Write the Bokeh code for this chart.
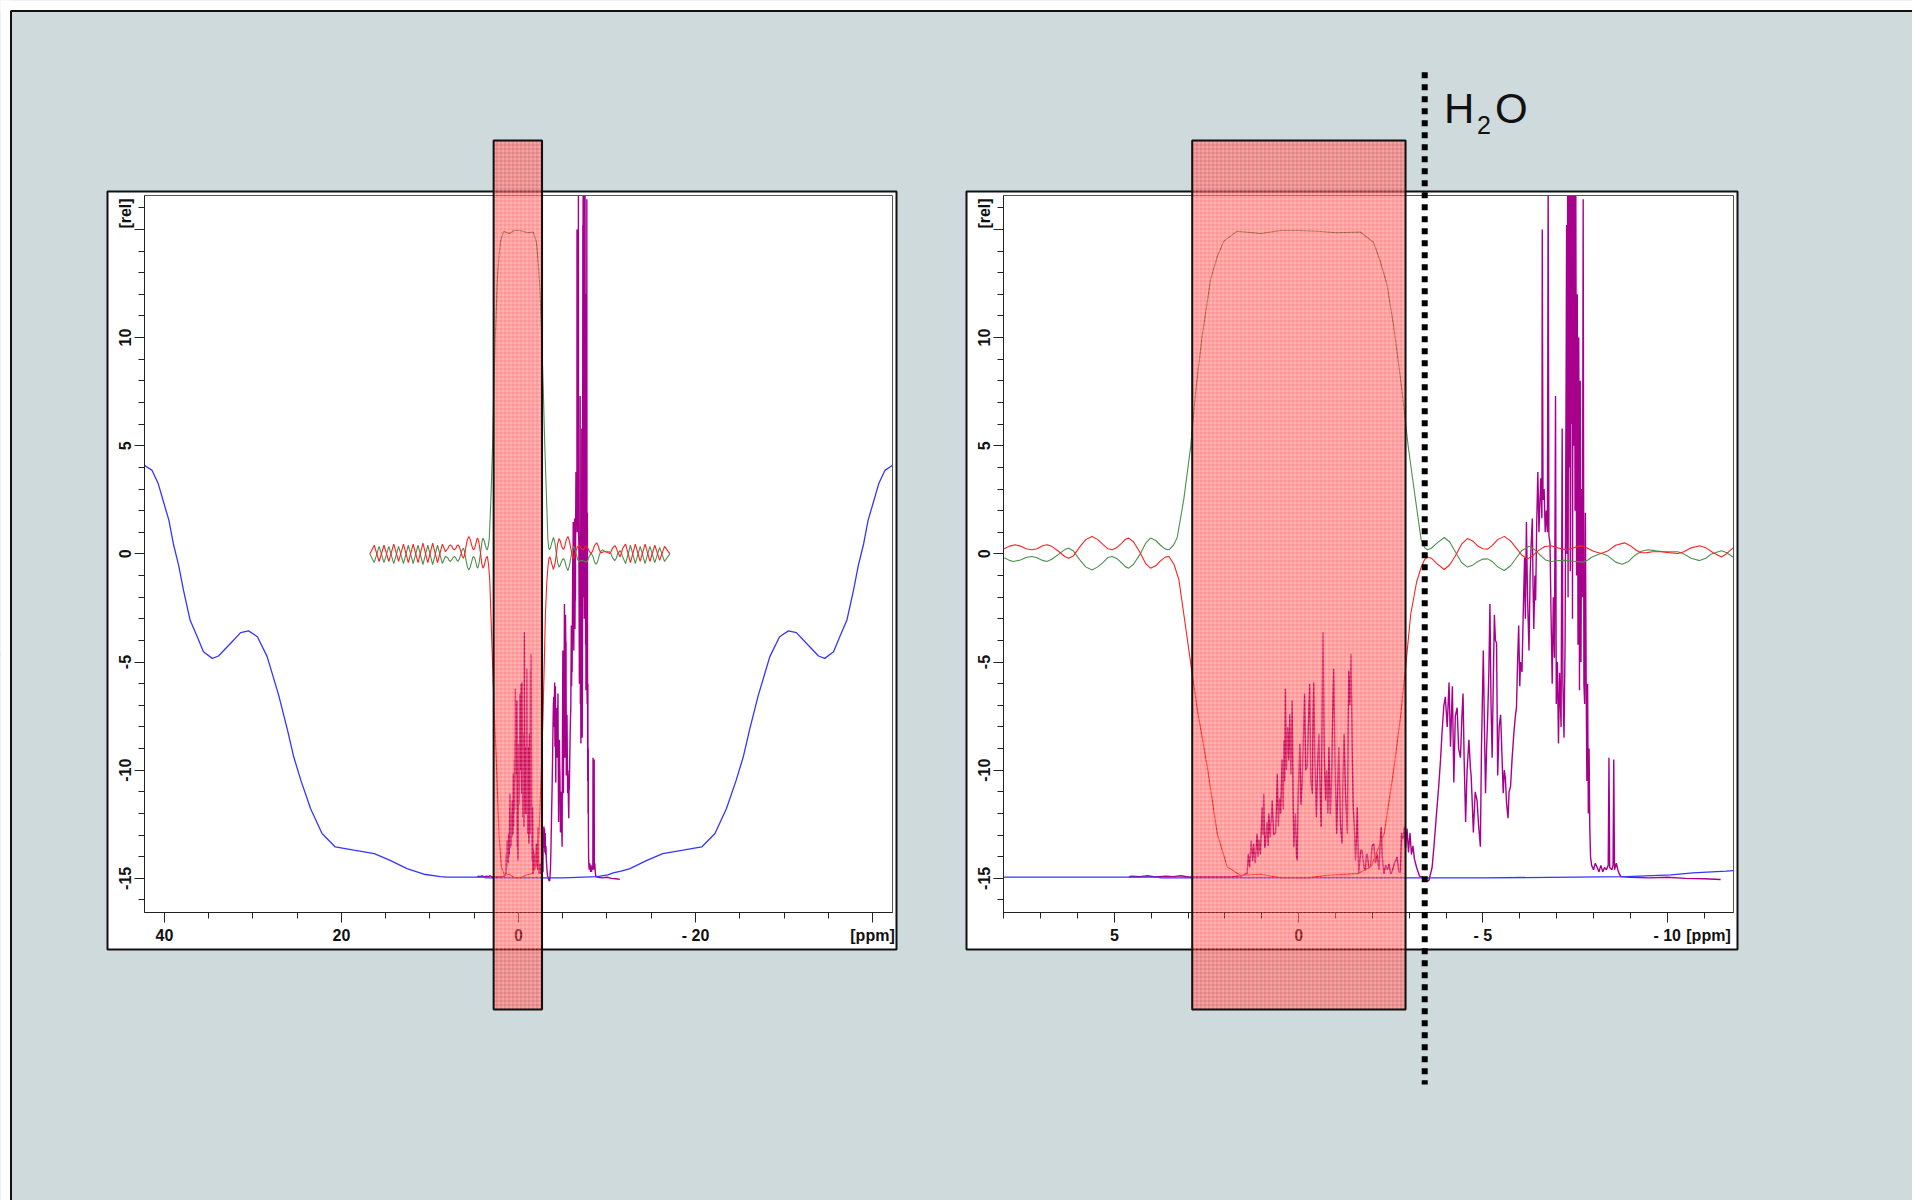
import math
from bokeh.plotting import figure
from bokeh.models import Range1d, FixedTicker, Label, LinearAxis
from bokeh.embed import file_html
from bokeh.resources import INLINE

BG = "#cfdadc"
W, H = 1912, 1200
FONT = "Liberation Sans"

# ---------------- tick labels ----------------
left_x_ticks = [40, 20, 0, -20, -40]
left_x_labels = {40: "40", 20: "20", 0: "0", -20: "- 20", -40: "[ppm]"}
right_x_ticks = [5, 0, -5, -10]
right_x_labels = {5: "5", 0: "0", -5: "- 5", -10: "- 10"}
y_ticks = [-15, -10, -5, 0, 5, 10, 15]
y_labels = {-15: "-15", -10: "-10", -5: "-5", 0: "0", 5: "5", 10: "10", 15: ""}

# ---------------- marked regions ----------------
left_selection = (2.81, -2.66)     # ppm
right_selection = (2.89, -2.90)    # ppm
water_ppm = -3.42

# ---------------- blue profile ----------------
blue_ppm = [42.3, 42.1, 41.4, 40.7, 40.1, 39.5, 39.0, 38.4, 37.85, 37.1, 36.3, 35.6, 34.6, 33.9,
            32.5, 31.4, 30.5, 29.5, 28.4, 27.1, 26.1, 25.4, 24.6, 23.5, 22.2, 20.7, 18.6, 16.3,
            14.5, 12.6, 10.7, 8.8, 8.1, 3.8, 3.75, 0.0, -5.0, -8.9, -10.1, -10.7, -11.6, -12.6,
            -14.5, -16.3, -18.6, -20.7, -22.2, -23.5, -24.6, -25.4, -26.1, -27.1, -28.4, -29.5,
            -30.5, -31.4, -32.5, -33.9, -34.6, -35.6, -36.3, -37.1, -37.85, -38.4, -39.0, -39.5,
            -40.1, -40.7, -41.4, -42.1, -42.3]
blue_val = [4.12, 4.05, 3.86, 3.24, 2.39, 1.55, 0.47, -0.53, -1.69, -3.07, -3.83, -4.52, -4.83, -4.72,
            -4.12, -3.64, -3.56, -3.83, -4.75, -6.53, -8.15, -9.38, -10.46, -11.77, -12.93, -13.55,
            -13.70, -13.86, -14.17, -14.55, -14.81, -14.92, -14.94, -14.94, -14.98, -14.98, -14.98,
            -14.92, -14.84, -14.75, -14.67, -14.55, -14.17, -13.86, -13.70, -13.55, -12.93, -11.77,
            -10.46, -9.38, -8.15, -6.53, -4.75, -3.83, -3.56, -3.64, -4.12, -4.72, -4.83, -4.52,
            -3.83, -3.07, -1.69, -0.53, 0.47, 1.55, 2.39, 3.24, 3.86, 4.05, 4.12]

# ---------------- red / green excitation curves (ppm, value) ----------------
red_curve = [
    (16.8, 0.0), (16.3, 0.4), (15.75, -0.35), (15.2, 0.4), (14.65, -0.35), (14.1, 0.45),
    (13.55, -0.35), (13.0, 0.45), (12.45, -0.4), (11.9, 0.45), (11.35, -0.4), (10.8, 0.5),
    (10.25, -0.4), (9.7, 0.5), (9.15, -0.4), (8.6, 0.45), (8.25, 0.1),
    (7.96, 0.26), (7.85, 0.36), (7.69, 0.42), (7.55, 0.36), (7.40, 0.24), (7.24, 0.19),
    (7.10, 0.24), (6.95, 0.38), (6.83, 0.42), (6.70, 0.35), (6.50, 0.10), (6.35, -0.12),
    (6.24, -0.20), (6.12, -0.10), (5.95, 0.30), (5.78, 0.66), (5.61, 0.80), (5.45, 0.66),
    (5.30, 0.42), (5.18, 0.24), (5.06, 0.19), (4.93, 0.30), (4.80, 0.50), (4.70, 0.68),
    (4.61, 0.73), (4.48, 0.55), (4.30, 0.05), (4.15, -0.45), (4.02, -0.66), (3.88, -0.55),
    (3.75, -0.32), (3.62, -0.15), (3.52, -0.12), (3.38, -0.50), (3.25, -1.20), (3.10, -3.00),
    (2.93, -5.06), (2.75, -7.2), (2.48, -9.85), (2.21, -12.93), (1.94, -14.47), (1.58, -14.86),
    (1.03, -14.81), (0.49, -14.97), (-0.24, -14.98), (-0.78, -14.86), (-1.6, -14.78),
    (-1.96, -14.47), (-2.32, -12.93), (-2.59, -9.85), (-2.77, -7.42), (-2.91, -5.1),
    (-3.04, -2.79), (-3.2, -1.3), (-3.32, -0.64), (-3.42, -0.25), (-3.50, -0.14), (-3.60, -0.20),
    (-3.75, -0.45), (-3.95, -0.72), (-4.10, -0.50), (-4.25, -0.10), (-4.42, 0.45), (-4.58, 0.71),
    (-4.72, 0.60), (-4.85, 0.38), (-5.00, 0.24), (-5.13, 0.22), (-5.25, 0.38), (-5.40, 0.66),
    (-5.58, 0.81), (-5.75, 0.60), (-5.90, 0.28), (-6.05, -0.05), (-6.21, -0.23), (-6.35, -0.08),
    (-6.50, 0.15), (-6.68, 0.34), (-6.85, 0.38), (-7.00, 0.30), (-7.15, 0.22), (-7.30, 0.19),
    (-7.45, 0.27), (-7.60, 0.36), (-7.72, 0.36), (-7.85, 0.25), (-8.00, 0.12), (-8.21, 0.02),
    (-8.40, 0.15), (-8.60, 0.40), (-8.84, 0.51), (-9.00, 0.38), (-9.15, 0.18), (-9.29, 0.05),
    (-9.45, 0.06), (-9.60, 0.10), (-9.84, 0.10), (-10.05, 0.06), (-10.29, 0.02), (-10.45, 0.10),
    (-10.65, 0.28), (-10.88, 0.38), (-11.05, 0.28), (-11.25, 0.05), (-11.47, -0.14),
    (-11.62, 0.02), (-11.78, 0.27),
    (-12.1, 0.45), (-12.65, -0.4), (-13.2, 0.45), (-13.75, -0.35), (-14.3, 0.45), (-14.85, -0.35),
    (-15.4, 0.4), (-15.95, -0.3), (-16.5, 0.35), (-17.1, 0.0),
]
green_curve = [
    (16.8, 0.0), (16.3, -0.4), (15.75, 0.35), (15.2, -0.4), (14.65, 0.35), (14.1, -0.45),
    (13.55, 0.35), (13.0, -0.45), (12.45, 0.4), (11.9, -0.45), (11.35, 0.4), (10.8, -0.5),
    (10.25, 0.4), (9.7, -0.5), (9.15, 0.4), (8.6, -0.45), (8.25, -0.1),
    (7.96, -0.20), (7.85, -0.30), (7.74, -0.35), (7.55, -0.28), (7.40, -0.17), (7.24, -0.12),
    (7.10, -0.18), (6.95, -0.30), (6.83, -0.35), (6.70, -0.25), (6.50, 0.00), (6.35, 0.20),
    (6.24, 0.26), (6.12, 0.15), (5.95, -0.25), (5.78, -0.60), (5.61, -0.74), (5.45, -0.60),
    (5.30, -0.38), (5.18, -0.17), (5.06, -0.12), (4.93, -0.22), (4.80, -0.42), (4.70, -0.60),
    (4.61, -0.66), (4.48, -0.48), (4.30, 0.00), (4.15, 0.50), (4.02, 0.73), (3.88, 0.62),
    (3.75, 0.40), (3.62, 0.22), (3.52, 0.19), (3.40, 0.40), (3.30, 0.73), (3.12, 2.50),
    (2.93, 4.97), (2.80, 7.44), (2.62, 10.06), (2.39, 12.69), (2.2, 13.8), (2.03, 14.46),
    (1.67, 14.92), (1.03, 14.81), (0.5, 14.95), (0.0, 14.95), (-0.5, 14.92), (-1.03, 14.85),
    (-1.67, 14.88), (-2.03, 14.4), (-2.2, 13.6), (-2.39, 12.5), (-2.58, 10.5), (-2.8, 7.6),
    (-2.97, 5.0), (-3.13, 3.0), (-3.32, 0.68), (-3.42, 0.28), (-3.50, 0.19), (-3.60, 0.26),
    (-3.75, 0.50), (-3.95, 0.76), (-4.10, 0.55), (-4.25, 0.10), (-4.42, -0.40), (-4.58, -0.61),
    (-4.72, -0.52), (-4.85, -0.36), (-5.00, -0.24), (-5.13, -0.23), (-5.25, -0.35), (-5.40, -0.60),
    (-5.58, -0.77), (-5.75, -0.55), (-5.90, -0.20), (-6.05, 0.15), (-6.25, 0.35), (-6.40, 0.20),
    (-6.55, -0.05), (-6.70, -0.28), (-6.85, -0.35), (-7.00, -0.32), (-7.20, -0.30), (-7.45, -0.34),
    (-7.70, -0.38), (-7.85, -0.28), (-7.95, -0.15), (-8.21, 0.03), (-8.40, -0.10), (-8.60, -0.38),
    (-8.78, -0.48), (-8.95, -0.35), (-9.10, -0.10), (-9.30, 0.12), (-9.48, 0.19), (-9.70, 0.14),
    (-9.90, 0.10), (-10.10, 0.10), (-10.29, 0.10), (-10.45, 0.00), (-10.65, -0.20), (-10.88, -0.31),
    (-11.05, -0.20), (-11.20, 0.00), (-11.47, 0.15), (-11.62, 0.05), (-11.78, -0.14),
    (-12.1, -0.45), (-12.65, 0.4), (-13.2, -0.45), (-13.75, 0.35), (-14.3, -0.45), (-14.85, 0.35),
    (-15.4, -0.4), (-15.95, 0.3), (-16.5, -0.35), (-17.1, 0.0),
]
red_ppm = [a for a, b in red_curve]
red_val = [b for a, b in red_curve]
green_ppm = [a for a, b in green_curve]
green_val = [b for a, b in green_curve]

# ---------------- 1H spectrum (ppm, intensity) ----------------
spectrum = [
    (4.60, -14.96), (4.56, -14.90), (4.30, -14.92), (4.10, -14.88), (3.90, -14.93), (3.60, -14.90),
    (3.40, -14.92), (3.20, -14.88), (3.00, -14.94), (2.60, -14.93), (2.20, -14.94), (1.80, -14.92),
    (1.55, -14.88), (1.45, -14.80),
    (1.40, -14.79), (1.37, -13.87), (1.33, -14.50), (1.29, -13.25), (1.25, -14.20), (1.22, -13.40),
    (1.18, -14.30), (1.13, -12.94), (1.10, -14.00), (1.08, -13.20), (1.04, -13.90), (0.99, -11.71),
    (0.97, -13.00), (0.95, -11.09), (0.92, -13.60), (0.90, -13.40), (0.86, -12.40), (0.83, -13.50),
    (0.81, -12.00), (0.77, -13.10), (0.72, -11.40), (0.68, -13.00), (0.63, -12.90), (0.60, -11.50),
    (0.58, -10.17), (0.55, -12.60), (0.52, -11.30), (0.49, -12.00), (0.45, -9.50), (0.42, -11.80),
    (0.40, -8.63), (0.38, -10.50), (0.36, -6.24), (0.33, -10.00), (0.30, -8.00), (0.27, -9.55),
    (0.24, -7.40), (0.21, -10.20), (0.18, -6.78), (0.15, -11.50), (0.13, -13.56), (0.09, -12.00),
    (0.06, -14.00), (0.04, -14.17), (0.01, -11.00), (-0.03, -8.78), (-0.06, -11.60), (-0.09, -10.78),
    (-0.12, -9.00), (-0.16, -6.47), (-0.19, -10.00), (-0.23, -9.86), (-0.26, -8.00), (-0.30, -6.00),
    (-0.33, -10.50), (-0.37, -11.09), (-0.39, -7.50), (-0.41, -5.93), (-0.44, -9.50), (-0.48, -12.17),
    (-0.51, -10.00), (-0.55, -8.32), (-0.58, -11.00), (-0.61, -12.63), (-0.64, -7.00), (-0.66, -3.62),
    (-0.69, -9.00), (-0.73, -11.40), (-0.76, -10.00), (-0.79, -12.00), (-0.82, -8.93), (-0.86, -12.02),
    (-0.89, -10.50), (-0.92, -7.50), (-0.95, -5.31), (-0.99, -10.00), (-1.03, -12.94), (-1.06, -11.00),
    (-1.09, -8.93), (-1.13, -12.50), (-1.18, -13.40), (-1.20, -10.50), (-1.23, -8.32), (-1.27, -11.00),
    (-1.32, -12.94), (-1.34, -8.00), (-1.36, -5.39), (-1.39, -7.00), (-1.42, -4.62), (-1.45, -9.00),
    (-1.48, -11.71), (-1.51, -12.50), (-1.54, -14.17), (-1.57, -13.00), (-1.59, -11.71), (-1.62, -14.00),
    (-1.63, -14.79), (-1.68, -13.70), (-1.72, -13.71), (-1.77, -14.50), (-1.81, -14.64), (-1.84, -13.90),
    (-1.86, -13.87), (-1.90, -14.50), (-1.95, -14.48), (-1.99, -13.50), (-2.04, -13.40), (-2.08, -14.30),
    (-2.13, -13.87), (-2.18, -14.60), (-2.21, -13.30), (-2.24, -12.63), (-2.27, -14.00), (-2.31, -14.79),
    (-2.36, -14.40), (-2.41, -14.60), (-2.45, -14.33), (-2.50, -14.80), (-2.54, -14.64), (-2.60, -14.30),
    (-2.67, -14.02), (-2.72, -14.70), (-2.76, -14.71),
    (-2.79, -12.90), (-2.83, -13.20), (-2.87, -12.60), (-2.90, -13.60), (-2.94, -12.70), (-2.98, -13.80),
    (-3.02, -12.90), (-3.06, -13.90), (-3.10, -13.50), (-3.14, -14.10), (-3.20, -14.50), (-3.28, -14.90),
    (-3.35, -14.95), (-3.44, -15.10), (-3.53, -15.11), (-3.62, -14.50), (-3.67, -13.54), (-3.74, -12.00),
    (-3.80, -10.74), (-3.85, -9.50), (-3.89, -8.26), (-3.94, -7.00), (-3.98, -6.61), (-4.03, -8.00),
    (-4.08, -5.95), (-4.12, -8.92), (-4.17, -6.12), (-4.21, -10.57), (-4.25, -7.50), (-4.30, -7.11),
    (-4.34, -9.00), (-4.39, -9.42), (-4.43, -7.50), (-4.46, -6.45), (-4.49, -9.50), (-4.53, -12.39),
    (-4.57, -10.00), (-4.62, -8.59), (-4.66, -9.90), (-4.68, -10.24), (-4.71, -11.50), (-4.74, -12.88),
    (-4.79, -11.00), (-4.84, -11.40), (-4.88, -12.50), (-4.93, -13.54), (-4.96, -9.00), (-5.01, -4.47),
    (-5.04, -8.00), (-5.07, -11.07), (-5.10, -9.00), (-5.13, -7.44), (-5.16, -5.50), (-5.19, -2.32),
    (-5.22, -7.00), (-5.25, -9.42), (-5.28, -6.00), (-5.31, -2.81), (-5.34, -4.00), (-5.37, -4.13),
    (-5.40, -10.24), (-5.44, -8.00), (-5.48, -7.44), (-5.52, -9.50), (-5.55, -11.07), (-5.58, -10.00),
    (-5.61, -10.40), (-5.64, -11.50), (-5.68, -12.22), (-5.71, -11.00), (-5.75, -10.74), (-5.79, -9.50),
    (-5.84, -8.26), (-5.88, -7.50), (-5.91, -7.11), (-5.94, -5.00), (-5.97, -3.31), (-6.00, -6.12),
    (-6.02, -5.00), (-6.06, -5.46), (-6.09, -3.00), (-6.13, -0.17), (-6.15, -3.00), (-6.18, 1.48),
    (-6.21, -2.00), (-6.25, -4.47), (-6.28, -1.00), (-6.31, 0.50), (-6.34, 1.64), (-6.36, -1.50),
    (-6.38, -3.47), (-6.41, -1.00), (-6.43, -2.15), (-6.46, 1.50), (-6.49, 3.79), (-6.52, 1.00),
    (-6.54, 2.14), (-6.57, 3.50),
    (-6.60, 1.65), (-6.61, 15.00), (-6.63, 2.50), (-6.66, 3.00), (-6.69, 1.00), (-6.72, 2.00),
    (-6.75, 1.00), (-6.77, 17.50), (-6.79, 0.85), (-6.82, 0.50), (-6.85, -3.00), (-6.88, -6.00),
    (-6.91, -2.00), (-6.94, -4.80), (-6.97, 7.30), (-6.99, -6.94), (-7.02, -5.00), (-7.05, -8.76),
    (-7.08, -5.50), (-7.12, -8.00), (-7.15, 5.80), (-7.17, -6.00), (-7.20, -8.50), (-7.23, -4.00),
    (-7.26, 9.60), (-7.27, 15.20), (-7.28, 0.00), (-7.30, 17.50), (-7.31, -2.00), (-7.33, 17.50),
    (-7.34, 4.00), (-7.36, 17.50), (-7.37, -0.80), (-7.39, 17.50), (-7.40, 6.00), (-7.42, 17.50),
    (-7.43, -3.00), (-7.45, 17.50), (-7.46, 5.00), (-7.48, 17.50), (-7.50, 2.00), (-7.52, 17.50),
    (-7.54, -1.00), (-7.56, 12.00), (-7.58, -4.20), (-7.60, 10.00), (-7.62, -6.30), (-7.64, 8.00),
    (-7.66, -5.00), (-7.68, 3.00), (-7.70, -2.00), (-7.72, 16.40), (-7.74, -6.00), (-7.76, -6.94),
    (-7.78, 1.90), (-7.80, -5.62), (-7.82, -10.50), (-7.84, -6.00), (-7.86, -12.00), (-7.88, -9.00),
    (-7.90, -12.70), (-7.92, -14.00), (-7.95, -14.40), (-8.00, -14.60), (-8.05, -14.30), (-8.10, -14.50),
    (-8.15, -14.70), (-8.20, -14.40), (-8.25, -14.70), (-8.30, -14.50), (-8.35, -14.60), (-8.40, -14.40),
    (-8.42, -9.42), (-8.44, -14.50), (-8.50, -14.60), (-8.53, -14.40), (-8.55, -9.50), (-8.57, -14.60),
    (-8.62, -14.30), (-8.66, -14.60), (-8.70, -14.80), (-8.75, -14.92), (-9.00, -14.95), (-9.50, -14.98),
    (-10.00, -14.95), (-10.50, -15.00), (-11.00, -15.02), (-11.45, -15.05),
]
spec_ppm = [a for a, b in spectrum]
spec_int = [b for a, b in spectrum]

# ---------------- page geometry (pixels) ----------------
left_frame = (144, 892, 195, 912)      # l, r, t, b
right_frame = (1003, 1733, 195, 912)
left_outer = (107, 896, 191, 949)
right_outer = (966, 1737, 191, 949)

p = figure(width=W, height=H, x_range=Range1d(0, W), y_range=Range1d(H, 0),
           x_axis_location=None, y_axis_location=None, min_border=0, title=None,
           output_backend="svg", toolbar_location=None)
p.border_fill_color = "white"
p.background_fill_color = "white"
p.outline_line_color = None
p.xgrid.visible = False
p.ygrid.visible = False
p.extra_x_ranges = {"L": Range1d(58.531, -157.514), "R": Range1d(35.229, -16.657)}
p.extra_y_ranges = {"v": Range1d(-29.894, 25.585)}


def rect_ring(box):
    l, r, t, b = box
    return [l, r, r, l], [t, t, b, b]


def draw_curves(rng):
    for xs, ys, col, lw in ((spec_ppm, spec_int, "#a8008c", 1.4),
                            (blue_ppm, blue_val, "#3535ff", 1.3),
                            (green_ppm, green_val, "#4f8f4f", 1.1),
                            (red_ppm, red_val, "#ff2020", 1.1)):
        p.line(xs, ys, line_color=col, line_width=lw, x_range_name=rng, y_range_name="v")


# page background
p.quad(left=[-50], right=[2600], top=[-50], bottom=[1700], fill_color=BG, line_color=None)

# right (zoomed) panel
l, r, t, b = right_frame
p.quad(left=[l], right=[r], top=[t], bottom=[b], fill_color="white", line_color=None)
draw_curves("R")

# left (wide) panel
l, r, t, b = left_frame
p.quad(left=[l], right=[r], top=[t], bottom=[b], fill_color="white", line_color=None)
draw_curves("L")

# mask everything outside the two frames
ext = ([-50, 2600, 2600, -50], [-50, -50, 1700, 1700])
hl = rect_ring(left_frame)
hr = rect_ring(right_frame)
p.multi_polygons(xs=[[[ext[0], hl[0], hr[0]]]], ys=[[[ext[1], hl[1], hr[1]]]],
                 fill_color=BG, line_color=None)
# white page margin and the page frame line
p.quad(left=[-50], right=[10], top=[-50], bottom=[1700], fill_color="white", line_color=None)
p.quad(left=[-50], right=[2600], top=[-50], bottom=[10], fill_color="white", line_color=None)
p.quad(left=[10.5], right=[3000], top=[10.5], bottom=[3000], fill_color=None,
       line_color="#111111", line_width=2)

# white panels around the frames
for outer, frame in ((left_outer, left_frame), (right_outer, right_frame)):
    ox, oy = rect_ring(outer)
    fx, fy = rect_ring(frame)
    p.multi_polygons(xs=[[[ox, fx]]], ys=[[[oy, fy]]], fill_color="white", line_color=None)
    p.quad(left=[outer[0]], right=[outer[1]], top=[outer[2]], bottom=[outer[3]], fill_color=None,
           line_color="#111111", line_width=2)
    p.quad(left=[frame[0]], right=[frame[1]], top=[frame[2]], bottom=[frame[3]], fill_color=None,
           line_color="#555555", line_width=1)


def style_axis(ax):
    ax.axis_line_color = "#222222"
    ax.major_tick_line_color = "#222222"
    ax.minor_tick_line_color = "#222222"
    ax.major_tick_out = 10
    ax.major_tick_in = 0
    ax.minor_tick_out = 6
    ax.minor_tick_in = 0
    ax.major_label_text_font = FONT
    ax.major_label_text_font_style = "bold"
    ax.major_label_text_font_size = "16px"
    ax.major_label_text_color = "#111111"


# axes
xL = LinearAxis(x_range_name="L", fixed_location=912, bounds=(-42.26, 42.26),
                ticker=FixedTicker(ticks=left_x_ticks, minor_ticks=list(range(-40, 45, 5))),
                major_label_overrides={float(k): v for k, v in left_x_labels.items()},
                major_label_standoff=4)
xR = LinearAxis(x_range_name="R", fixed_location=912, bounds=(-11.799, 8.011),
                ticker=FixedTicker(ticks=right_x_ticks, minor_ticks=list(range(-11, 9))),
                major_label_overrides={float(k): v for k, v in right_x_labels.items()},
                major_label_standoff=4)
yL = LinearAxis(y_range_name="v", fixed_location=144, bounds=(-16.57, 16.57),
                ticker=FixedTicker(ticks=y_ticks, minor_ticks=list(range(-16, 17))),
                major_label_overrides={float(k): v for k, v in y_labels.items()},
                major_label_orientation="vertical", major_label_standoff=3)
yR = LinearAxis(y_range_name="v", fixed_location=1003, bounds=(-16.57, 16.57),
                ticker=FixedTicker(ticks=y_ticks, minor_ticks=list(range(-16, 17))),
                major_label_overrides={float(k): v for k, v in y_labels.items()},
                major_label_orientation="vertical", major_label_standoff=3)
for ax in (xL, xR):
    style_axis(ax)
    p.add_layout(ax, "below")
for ax in (yL, yR):
    style_axis(ax)
    p.add_layout(ax, "left")

# selected excitation regions
for sel, rng in ((left_selection, "L"), (right_selection, "R")):
    rb = p.quad(left=[sel[0]], right=[sel[1]], top=[19.11], bottom=[-21.06],
                x_range_name=rng, y_range_name="v",
                fill_color="#ff2020", fill_alpha=0.48, hatch_pattern="cross",
                hatch_color="white", hatch_alpha=0.3, hatch_scale=4, hatch_weight=1,
                line_color="#111111", line_width=2)
    rb.level = "overlay"

# water position
wl = p.line([water_ppm, water_ppm], [22.27, -24.53], x_range_name="R", y_range_name="v",
            line_color="black", line_width=6, line_dash="6 6", line_cap="butt")
wl.level = "overlay"

# texts
for x in (125, 984):
    p.add_layout(Label(x=x, y=213, text="[rel]", angle=math.pi / 2, text_align="center",
                       text_baseline="middle", text_font=FONT, text_font_style="bold",
                       text_font_size="16px", text_color="#111111"))
p.add_layout(Label(x=1708, y=935, text="[ppm]", text_align="center", text_baseline="middle",
                   text_font=FONT, text_font_style="bold", text_font_size="16px",
                   text_color="#111111"))
p.add_layout(Label(x=1443.4, y=108, text="H", text_font=FONT, text_font_size="42px",
                   text_baseline="alphabetic", text_align="left", text_color="#111111"))
p.add_layout(Label(x=1476.6, y=124, text="2", text_font=FONT, text_font_size="25px",
                   text_baseline="alphabetic", text_align="left", text_color="#111111"))
p.add_layout(Label(x=1494.6, y=108, text="O", text_font=FONT, text_font_size="42px",
                   text_baseline="alphabetic", text_align="left", text_color="#111111"))

open("out.html", "w").write(file_html(p, INLINE))
